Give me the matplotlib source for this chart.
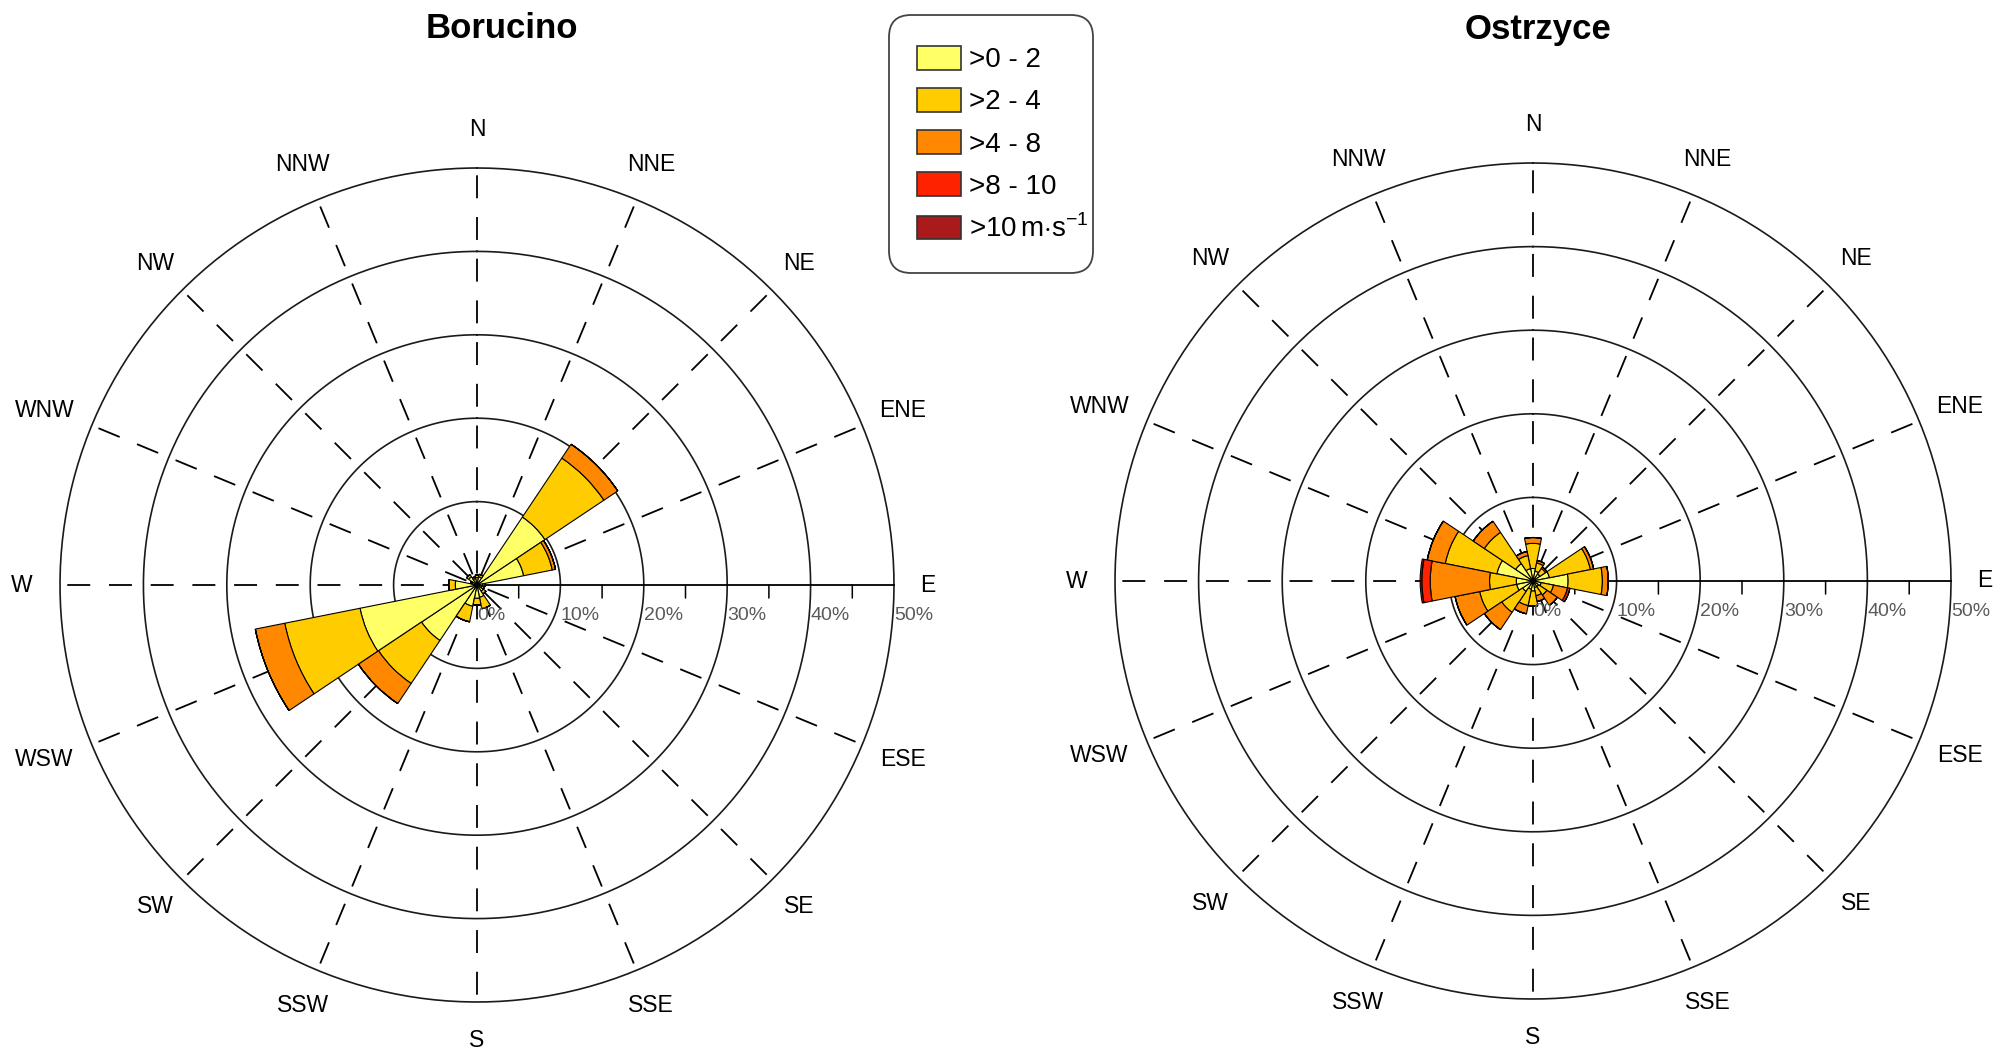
import matplotlib
matplotlib.use('Agg')
import matplotlib.pyplot as plt
import numpy as np
from matplotlib.patches import Patch, FancyBboxPatch

plt.rcParams['font.family'] = ['Liberation Sans', 'DejaVu Sans']
plt.rcParams['mathtext.fontset'] = 'custom'
plt.rcParams['mathtext.rm'] = 'Liberation Sans'
plt.rcParams['lines.scale_dashes'] = False

# wind directions (compass order, clockwise from N)
directions = ['N', 'NNE', 'NE', 'ENE', 'E', 'ESE', 'SE', 'SSE',
              'S', 'SSW', 'SW', 'WSW', 'W', 'WNW', 'NW', 'NNW']
speed_classes = ['>0 - 2', '>2 - 4', '>4 - 8', '>8 - 10', r'>10$\,$m$\cdot$s$^{-1}$']
class_colors = ['#FFFF66', '#FFCC00', '#FF8800', '#FF2200', '#AA1A1A']

# frequency (%) of each speed class per direction
bor_0_2  = [0.9, 1.0, 9.8, 5.7, 0.7, 0.6, 0.9, 1.5, 1.6, 2.6, 8.0, 14.3, 2.6, 0.6, 1.2, 0.8]
bor_2_4  = [0.3, 0.3, 8.5, 3.5, 0.3, 0.3, 0.4, 1.4, 0.8, 1.9, 6.2, 9.2, 0.8, 0.2, 0.3, 0.2]
bor_4_8  = [0.0, 0.0, 2.0, 0.4, 0.0, 0.0, 0.0, 0.0, 0.0, 0.0, 2.9, 3.6, 0.0, 0.0, 0.0, 0.0]
bor_8_10 = [0.0] * 16
bor_10   = [0.0] * 16

ost_0_2  = [1.5, 1.2, 1.0, 2.0, 4.2, 1.0, 0.8, 0.8, 1.2, 1.0, 1.5, 2.0, 2.0, 4.4, 2.5, 1.5]
ost_2_4  = [3.0, 1.0, 0.8, 5.0, 4.1, 1.5, 1.2, 1.0, 1.8, 2.0, 3.0, 4.5, 3.2, 6.3, 4.5, 1.6]
ost_4_8  = [0.7, 0.3, 0.2, 0.4, 0.7, 1.7, 1.5, 0.7, 0.0, 1.0, 2.5, 3.0, 7.1, 2.2, 1.6, 0.5]
ost_8_10 = [0.0, 0.0, 0.0, 0.0, 0.0, 0.3, 0.0, 0.0, 0.0, 0.0, 0.0, 0.0, 1.0, 0.0, 0.0, 0.0]
ost_10   = [0.0, 0.0, 0.0, 0.0, 0.0, 0.0, 0.0, 0.0, 0.0, 0.0, 0.0, 0.0, 0.2, 0.0, 0.0, 0.0]

rings = [10, 20, 30, 40, 50]
ring_labels = ['0%', '10%', '20%', '30%', '40%', '50%']

W_PX, H_PX, DPI = 1995, 1050, 100
fig = plt.figure(figsize=(W_PX / DPI, H_PX / DPI), dpi=DPI)

# wide labels near the horizontal sit a bit further out (pixels, sideways)
label_dx = {'ENE': 5, 'ESE': 5, 'WNW': -12, 'WSW': -12, 'E': -5}


def rose(cx, cy, R, title, title_x, title_y, classes):
    # polar axes placed so that r=50 lands on R pixels around (cx, cy)
    ax = fig.add_axes([(cx - R) / W_PX, 1 - (cy + R) / H_PX, 2 * R / W_PX, 2 * R / H_PX],
                      projection='polar')
    ax.set_theta_zero_location('N')
    ax.set_theta_direction(-1)
    ax.set_ylim(0, 50)
    ax.axis('off')

    theta = np.deg2rad(np.arange(16) * 22.5)
    full = np.linspace(0, 2 * np.pi, 400)
    for r in rings:
        ax.plot(full, [r] * len(full), color='#1a1a1a', lw=1.2, zorder=1, clip_on=False)

    # dashed radials, dashes centred on the rings
    period = R / 10 * 72 / DPI
    on, off = 0.55 * period, 0.45 * period
    for i, th in enumerate(theta):
        if directions[i] == 'E':
            continue
        ax.plot([th, th], [0, 50], color='black', lw=1.3, zorder=1, clip_on=False,
                linestyle=(on / 2 + off, (on, off)))
    th_e = np.deg2rad(90)
    ax.plot([th_e, th_e], [0, 50], color='black', lw=1.3, zorder=1, clip_on=False)
    # minor ticks below the E axis
    for m in [5, 15, 25, 35, 45]:
        ax.annotate('', xy=(th_e, m), xytext=(0, -13), textcoords='offset pixels',
                    arrowprops=dict(arrowstyle='-', color='black', lw=1.1,
                                    shrinkA=0, shrinkB=0))
    for r, lab in zip([0] + rings, ring_labels):
        ax.annotate(lab, xy=(th_e, r), xytext=(0, -31), textcoords='offset pixels',
                    ha='left', va='center', fontsize=14, color='#5a5a5a',
                    family=['DejaVu Sans Condensed', 'Liberation Sans'],
                    annotation_clip=False, zorder=4)

    bottom = np.zeros(16)
    for vals, col in zip(classes, class_colors):
        vals = np.array(vals)
        ax.bar(theta, vals, width=np.deg2rad(22.5), bottom=bottom, color=col,
               edgecolor='black', linewidth=0.8, zorder=3)
        bottom = bottom + vals

    for th, d in zip(theta, directions):
        ax.annotate(d, xy=(th, 54.6), xytext=(label_dx.get(d, 0), 0),
                    textcoords='offset pixels', ha='center', va='center',
                    fontsize=16.5, color='black', annotation_clip=False)

    fig.text(title_x / W_PX, 1 - title_y / H_PX, title, ha='center', va='center',
             fontsize=25, fontweight='bold',
             family=['DejaVu Sans Condensed', 'Liberation Sans'])


rose(477, 585, 417, 'Borucino', 502, 28, [bor_0_2, bor_2_4, bor_4_8, bor_8_10, bor_10])
rose(1533, 581, 418, 'Ostrzyce', 1538, 30, [ost_0_2, ost_2_4, ost_4_8, ost_8_10, ost_10])

# rounded legend frame, drawn on its own pixel-unit axes
box_ax = fig.add_axes([888 / W_PX, 1 - 274 / H_PX, 206 / W_PX, 260 / H_PX])
box_ax.set_xlim(0, 206)
box_ax.set_ylim(0, 260)
box_ax.axis('off')
box_ax.add_patch(FancyBboxPatch((1, 1), 204, 258, boxstyle='round,pad=0,rounding_size=22',
                                facecolor='white', edgecolor='#444444', linewidth=1.3,
                                clip_on=False))

handles = [Patch(facecolor=c, edgecolor='#333333', linewidth=1.2) for c in class_colors]
leg = fig.legend(handles, speed_classes, loc='upper left',
                 bbox_to_anchor=(886 / W_PX, 1 - 15 / H_PX), fontsize=20,
                 handlelength=1.6, handleheight=0.95, handletextpad=0.3,
                 labelspacing=0.53, borderpad=1.1, borderaxespad=0,
                 frameon=False)

fig.savefig('out.png', dpi=DPI)
